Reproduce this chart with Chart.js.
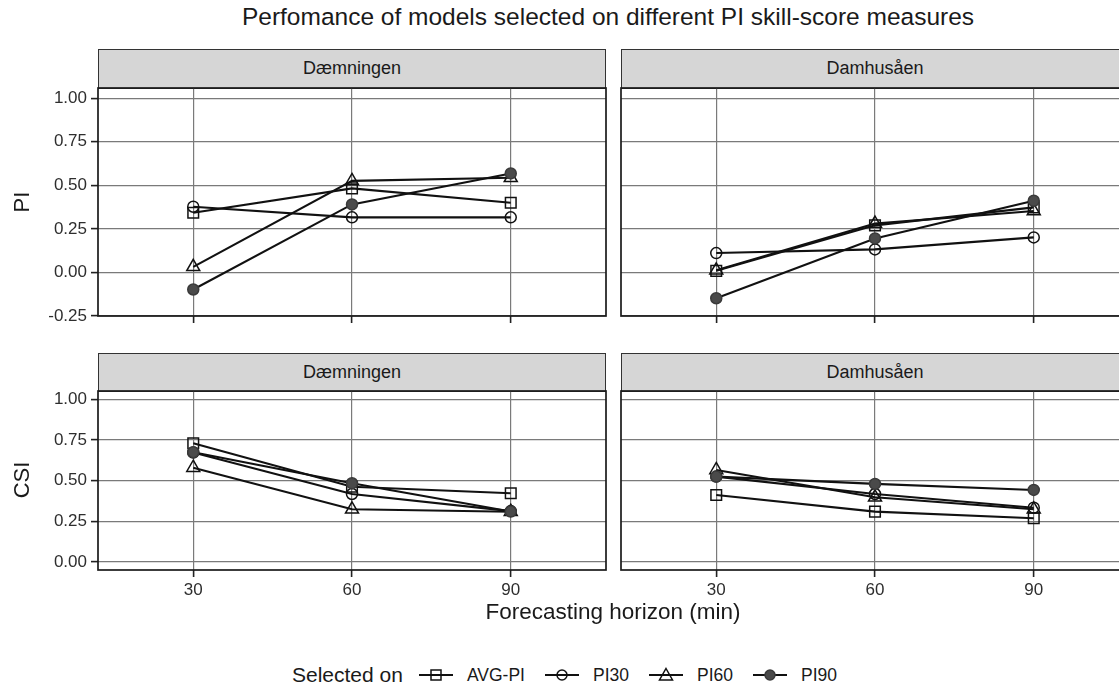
<!DOCTYPE html>
<html><head><meta charset="utf-8">
<script src="https://cdn.jsdelivr.net/npm/chart.js@4.4.0/dist/chart.umd.min.js"></script>
<style>
html,body{margin:0;padding:0;background:#fff;overflow:hidden;}
#wrap{position:relative;width:1119px;height:690px;overflow:hidden;font-family:"Liberation Sans",Arial,Helvetica,sans-serif;color:#1a1a1a;}
.strip{position:absolute;background:#d6d6d6;border:1.3px solid #333;box-sizing:border-box;text-align:center;font-size:18px;color:#1a1a1a;}
canvas{position:absolute;}
.txt{position:absolute;white-space:nowrap;line-height:1;}
#legend{position:absolute;left:292px;top:663px;height:24px;display:flex;align-items:center;white-space:nowrap;}
#legend .lt{font-size:21px;margin-right:16px;}
#legend .lab{font-size:17.5px;margin-left:14px;margin-right:20px;}
#legend svg{display:block;}
</style></head><body><div id="wrap">
<div class="txt" id="title" style="font-size:24.5px;top:5px;left:608px;transform:translateX(-50%);"></div>
<div class="strip" id="s1" style="left:98px;top:49px;width:508px;height:40px;line-height:37px;"></div>
<div class="strip" id="s2" style="left:621px;top:49px;width:508px;height:40px;line-height:37px;"></div>
<div class="strip" id="s3" style="left:98px;top:353px;width:508px;height:39px;line-height:36px;"></div>
<div class="strip" id="s4" style="left:621px;top:353px;width:508px;height:39px;line-height:36px;"></div>
<canvas id="c1"></canvas><canvas id="c2"></canvas><canvas id="c3"></canvas><canvas id="c4"></canvas>
<div class="txt" id="yt1" style="font-size:22px;left:22px;top:202px;transform:translate(-50%,-50%) rotate(-90deg);"></div>
<div class="txt" id="yt2" style="font-size:22px;left:22px;top:480px;transform:translate(-50%,-50%) rotate(-90deg);"></div>
<div class="txt" id="xt" style="font-size:22.5px;left:613px;top:601px;transform:translateX(-50%);"></div>
<div id="legend"></div>
</div>
<script>
// ---- data ----
const chartTitle = 'Perfomance of models selected on different PI skill-score measures';
const stations = ['Dæmningen', 'Damhusåen'];
const rowTitles = ['PI', 'CSI'];
const xTitle = 'Forecasting horizon (min)';
const legendTitle = 'Selected on';
const seriesNames = ['AVG-PI', 'PI30', 'PI60', 'PI90'];
const horizons = [30, 60, 90];
const xTicks = [30, 60, 90];
const yTicksPI = [-0.25, 0, 0.25, 0.5, 0.75, 1.0];
const yTicksCSI = [0, 0.25, 0.5, 0.75, 1.0];

const piDaemAvg  = [0.342, 0.482, 0.400];
const piDaemPI30 = [0.377, 0.316, 0.316];
const piDaemPI60 = [0.032, 0.525, 0.543];
const piDaemPI90 = [-0.098, 0.390, 0.568];

const piDamhAvg  = [0.009, 0.270, 0.373];
const piDamhPI30 = [0.111, 0.132, 0.201];
const piDamhPI60 = [0.012, 0.280, 0.352];
const piDamhPI90 = [-0.148, 0.195, 0.411];

const csiDaemAvg  = [0.729, 0.462, 0.422];
const csiDaemPI30 = [0.672, 0.417, 0.312];
const csiDaemPI60 = [0.579, 0.323, 0.308];
const csiDaemPI90 = [0.674, 0.483, 0.309];

const csiDamhAvg  = [0.411, 0.309, 0.268];
const csiDamhPI30 = [0.524, 0.417, 0.333];
const csiDamhPI60 = [0.565, 0.397, 0.323];
const csiDamhPI90 = [0.524, 0.479, 0.442];

// ---- styles ----
const markStyles = [
  {ps:'rect', r:7.5, bg:'rgba(0,0,0,0)', bc:'#111'},
  {ps:'circle', r:5.5, bg:'rgba(0,0,0,0)', bc:'#111'},
  {ps:'triangle', r:7.5, bg:'rgba(0,0,0,0)', bc:'#111'},
  {ps:'circle', r:5.5, bg:'#4a4a4a', bc:'#3a3a3a'}
];

document.getElementById('title').textContent = chartTitle;
document.getElementById('s1').textContent = stations[0];
document.getElementById('s2').textContent = stations[1];
document.getElementById('s3').textContent = stations[0];
document.getElementById('s4').textContent = stations[1];
document.getElementById('yt1').textContent = rowTitles[0];
document.getElementById('yt2').textContent = rowTitles[1];
document.getElementById('xt').textContent = xTitle;

function keySvg(st) {
  let shape = '';
  if (st.ps === 'rect') shape = '<rect x="12" y="5" width="10" height="10" fill="none" stroke="#111" stroke-width="1.5"/>';
  else if (st.ps === 'triangle') shape = '<polygon points="17,3.5 23.5,15 10.5,15" fill="none" stroke="#111" stroke-width="1.5"/>';
  else shape = '<circle cx="17" cy="10" r="5" fill="' + (st.bg.indexOf('rgba') === 0 ? 'none' : st.bg) + '" stroke="' + st.bc + '" stroke-width="1.5"/>';
  return '<svg width="34" height="20" viewBox="0 0 34 20"><line x1="0" y1="10" x2="34" y2="10" stroke="#111" stroke-width="2"/>' + shape + '</svg>';
}
let lg = '<span class="lt">' + legendTitle + '</span>';
seriesNames.forEach((n, i) => { lg += keySvg(markStyles[i]) + '<span class="lab"' + (i === seriesNames.length - 1 ? ' style="margin-right:0"' : '') + '>' + n + '</span>'; });
document.getElementById('legend').innerHTML = lg;

function buildDatasets(arrs) {
  const out = [];
  arrs.forEach((a, i) => {
    const pts = horizons.map((h, k) => ({x: h, y: a[k]}));
    out.push({label: seriesNames[i] + ' line', data: pts, borderColor: '#111', borderWidth: 2.1, pointRadius: 0, fill: false, tension: 0, order: 10});
  });
  arrs.forEach((a, i) => {
    const st = markStyles[i];
    const pts = horizons.map((h, k) => ({x: h, y: a[k]}));
    out.push({label: seriesNames[i], data: pts, showLine: false, pointStyle: st.ps, pointRadius: st.r,
      pointBorderWidth: 1.5, pointBackgroundColor: st.bg, pointBorderColor: st.bc, order: 4 - i});
  });
  return out;
}

const framePlugin = {
  id: 'frame',
  afterDraw(chart) {
    const a = chart.chartArea, ctx = chart.ctx;
    ctx.save(); ctx.strokeStyle = '#1a1a1a'; ctx.lineWidth = 1.7;
    ctx.strokeRect(a.left, a.top, a.right - a.left, a.bottom - a.top);
    ctx.restore();
  }
};

function makePanel(id, left, top, L, B, H, arrs, yMin, yMax, yTicks, showY, showX) {
  const cv = document.getElementById(id);
  const W = L + 508 + 2, HH = 2 + H + B;
  cv.width = W; cv.height = HH;
  cv.style.left = left + 'px'; cv.style.top = top + 'px';
  cv.style.width = W + 'px'; cv.style.height = HH + 'px';
  new Chart(cv, {
    type: 'line',
    data: {datasets: buildDatasets(arrs)},
    plugins: [framePlugin],
    options: {
      responsive: false, animation: false, devicePixelRatio: 1,
      layout: {autoPadding: false, padding: {top: 2, right: 2, left: 0, bottom: 0}},
      plugins: {legend: {display: false}, tooltip: {enabled: false}},
      scales: {
        x: {
          type: 'linear', min: 12, max: 108,
          afterBuildTicks: s => { s.ticks = xTicks.map(v => ({value: v})); },
          afterFit: s => { s.height = B; s.paddingLeft = 0; s.paddingRight = 0; },
          border: {display: false},
          grid: {color: '#7a7a7a', lineWidth: 1.2, tickColor: '#222', tickLength: 7, tickWidth: 1.6, drawTicks: true},
          ticks: {font: {size: 17, family: '"Liberation Sans", Arial, sans-serif'}, color: '#2e2e2e', padding: 3, maxRotation: 0,
            callback: v => showX ? String(v) : ''}
        },
        y: {
          type: 'linear', min: yMin, max: yMax,
          afterBuildTicks: s => { s.ticks = yTicks.map(v => ({value: v})); },
          afterFit: s => { s.width = L; s.paddingTop = 0; s.paddingBottom = 0; },
          border: {display: false},
          grid: {color: '#7a7a7a', lineWidth: 1.2, tickColor: '#222', tickLength: showY ? 7 : 0, tickWidth: 1.6, drawTicks: showY},
          ticks: {display: showY, font: {size: 17, family: '"Liberation Sans", Arial, sans-serif'}, color: '#2e2e2e', padding: 4,
            callback: v => v.toFixed(2)}
        }
      }
    }
  });
}

makePanel('c1', 0, 86, 98, 10, 228, [piDaemAvg, piDaemPI30, piDaemPI60, piDaemPI90], -0.25, 1.058, yTicksPI, true, false);
makePanel('c2', 619, 86, 2, 10, 228, [piDamhAvg, piDamhPI30, piDamhPI60, piDamhPI90], -0.25, 1.058, yTicksPI, false, false);
makePanel('c3', 0, 389, 98, 32, 179, [csiDaemAvg, csiDaemPI30, csiDaemPI60, csiDaemPI90], -0.05, 1.05, yTicksCSI, true, true);
makePanel('c4', 619, 389, 2, 32, 179, [csiDamhAvg, csiDamhPI30, csiDamhPI60, csiDamhPI90], -0.05, 1.05, yTicksCSI, false, true);
</script>
</body></html>
